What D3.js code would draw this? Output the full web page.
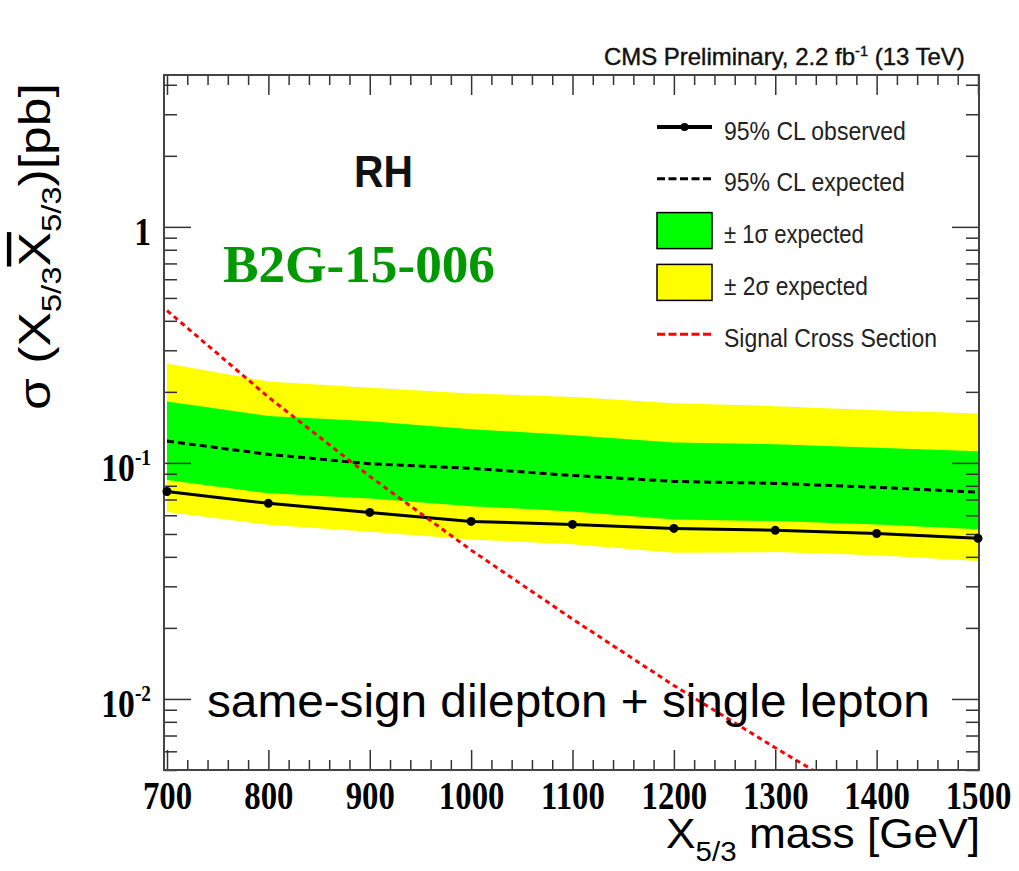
<!DOCTYPE html>
<html>
<head>
<meta charset="utf-8">
<script src="https://cdn.jsdelivr.net/npm/d3@7"></script>
<style>
  html, body { margin: 0; padding: 0; background: #fff; }
  svg { display: block; }
</style>
</head>
<body>
<div id="chart"></div>
<script>
// Mass points and limits (pb)
const masses = [700, 800, 900, 1000, 1100, 1200, 1300, 1400, 1500];
const observed = [0.0757, 0.0674, 0.0617, 0.0565, 0.0549, 0.0528, 0.0518, 0.0502, 0.0479];
const expected = [0.1237, 0.1087, 0.0992, 0.0948, 0.0885, 0.0835, 0.0819, 0.0788, 0.0752];
const oneSigmaUp = [0.182, 0.158, 0.150, 0.139, 0.131, 0.122, 0.120, 0.116, 0.112];
const oneSigmaDown = [0.0846, 0.0743, 0.0707, 0.0656, 0.0623, 0.0576, 0.0567, 0.0549, 0.0523];
const twoSigmaUp = [0.264, 0.221, 0.208, 0.197, 0.190, 0.179, 0.174, 0.167, 0.162];
const twoSigmaDown = [0.0619, 0.0547, 0.0511, 0.0474, 0.0452, 0.0416, 0.0419, 0.0406, 0.0384];
const signal = [0.442, 0.190, 0.0877, 0.0427, 0.0218, 0.0114, 0.00621, 0.00345, 0.00195];

// Axis ticks
const xMajor = [700, 800, 900, 1000, 1100, 1200, 1300, 1400, 1500];
const xMinor = d3.range(700, 1501, 20).filter(v => v % 100 !== 0);
const yMajor = [0.01, 0.1, 1];
const yMinor = [0.005, 0.006, 0.007, 0.008, 0.009, 0.02, 0.03, 0.04, 0.05, 0.06, 0.07, 0.08, 0.09,
  0.2, 0.3, 0.4, 0.5, 0.6, 0.7, 0.8, 0.9, 2, 3, 4];

const legendEntries = [
  { label: '95% CL observed', kind: 'obs' },
  { label: '95% CL expected', kind: 'exp' },
  { label: '\u00b1 1\u03c3 expected', kind: 'box', fill: '#00ff00' },
  { label: '\u00b1 2\u03c3 expected', kind: 'box', fill: '#ffff00' },
  { label: 'Signal Cross Section', kind: 'sig' }
];

const width = 1019;
const height = 871;
const frame = { left: 164, right: 979, top: 75, bottom: 770 };
const SANS = '"Liberation Sans", Arial, Helvetica, sans-serif';
const SERIF = '"Liberation Serif", "Times New Roman", serif';

const svg = d3.select('#chart').append('svg')
  .attr('width', width)
  .attr('height', height);

const x = d3.scaleLinear().domain([700, 1500]).range([167, 978]);
const y = d3.scaleLog().domain([0.005, 4.4]).range([frame.bottom, frame.top]);

// stretch/squeeze a text horizontally so it spans a given width
function fitText(text, tx, ty, w, angle = 0) {
  const bw = text.node().getBBox().width;
  text.attr('transform', `translate(${tx},${ty})` + (angle ? ` rotate(${angle})` : '') + ` scale(${w / bw},1)`);
}

svg.append('defs').append('clipPath').attr('id', 'plot-clip')
  .append('rect')
  .attr('x', frame.left).attr('y', frame.top)
  .attr('width', frame.right - frame.left)
  .attr('height', frame.bottom - frame.top);

const plot = svg.append('g').attr('clip-path', 'url(#plot-clip)');

const rows = masses.map((m, i) => ({
  m,
  obs: observed[i], exp: expected[i],
  up1: oneSigmaUp[i], dn1: oneSigmaDown[i],
  up2: twoSigmaUp[i], dn2: twoSigmaDown[i],
  sig: signal[i]
}));

// +-2 sigma, then +-1 sigma bands
plot.append('path')
  .datum(rows)
  .attr('fill', '#ffff00')
  .attr('d', d3.area().x(d => x(d.m)).y0(d => y(d.dn2)).y1(d => y(d.up2)));

plot.append('path')
  .datum(rows)
  .attr('fill', '#00ff00')
  .attr('d', d3.area().x(d => x(d.m)).y0(d => y(d.dn1)).y1(d => y(d.up1)));

// expected limit
plot.append('path')
  .datum(rows)
  .attr('fill', 'none')
  .attr('stroke', '#000')
  .attr('stroke-width', 3)
  .attr('stroke-dasharray', '7,4')
  .attr('d', d3.line().x(d => x(d.m)).y(d => y(d.exp)));

// observed limit
plot.append('path')
  .datum(rows)
  .attr('fill', 'none')
  .attr('stroke', '#000')
  .attr('stroke-width', 3)
  .attr('d', d3.line().x(d => x(d.m)).y(d => y(d.obs)));

// theory cross section
plot.append('path')
  .datum(rows)
  .attr('fill', 'none')
  .attr('stroke', '#ff0000')
  .attr('stroke-width', 3)
  .attr('stroke-dasharray', '5,4')
  .attr('d', d3.line().x(d => x(d.m)).y(d => y(d.sig)));

// ticks on all four sides
function styleAxis(g) {
  g.select('.domain').remove();
  g.attr('color', '#333');
  g.selectAll('line').attr('stroke-width', 1.5);
}

svg.append('g')
  .attr('transform', `translate(0,${frame.bottom})`)
  .call(d3.axisBottom(x).tickValues(xMinor).tickSize(-10).tickFormat(''))
  .call(styleAxis);

const xAxis = svg.append('g')
  .attr('transform', `translate(0,${frame.bottom})`)
  .call(d3.axisBottom(x).tickValues(xMajor).tickSize(-20).tickPadding(11).tickFormat(d3.format('d')))
  .call(styleAxis);

xAxis.attr('font-family', SERIF).attr('font-size', 40).attr('font-weight', 'bold');
xAxis.selectAll('text').attr('fill', '#000').attr('transform', 'scale(0.82,1)');

svg.append('g')
  .attr('transform', `translate(0,${frame.top})`)
  .call(d3.axisTop(x).tickValues(xMinor).tickSize(-10).tickFormat(''))
  .call(styleAxis);

svg.append('g')
  .attr('transform', `translate(0,${frame.top})`)
  .call(d3.axisTop(x).tickValues(xMajor).tickSize(-20).tickFormat(''))
  .call(styleAxis);

svg.append('g')
  .attr('transform', `translate(${frame.left},0)`)
  .call(d3.axisLeft(y).tickValues(yMinor).tickSize(-13).tickFormat(''))
  .call(styleAxis);

svg.append('g')
  .attr('transform', `translate(${frame.left},0)`)
  .call(d3.axisLeft(y).tickValues(yMajor).tickSize(-27).tickFormat(''))
  .call(styleAxis);

svg.append('g')
  .attr('transform', `translate(${frame.right},0)`)
  .call(d3.axisRight(y).tickValues(yMinor).tickSize(-13).tickFormat(''))
  .call(styleAxis);

svg.append('g')
  .attr('transform', `translate(${frame.right},0)`)
  .call(d3.axisRight(y).tickValues(yMajor).tickSize(-27).tickFormat(''))
  .call(styleAxis);

// y tick labels as powers of ten
const yLabels = svg.append('g')
  .attr('font-family', SERIF)
  .attr('font-weight', 'bold')
  .attr('fill', '#000');

yMajor.forEach(v => {
  const t = yLabels.append('text')
    .attr('text-anchor', 'end')
    .attr('font-size', 40)
    .attr('transform', `translate(151,${y(v) + 18}) scale(0.84,1)`);
  const p = Math.round(Math.log10(v));
  if (p === 0) {
    t.text('1');
  } else {
    t.append('tspan').text('10');
    t.append('tspan').attr('font-size', 23).attr('dy', -16).text(p);
  }
});

// frame
svg.append('rect')
  .attr('x', frame.left).attr('y', frame.top)
  .attr('width', frame.right - frame.left)
  .attr('height', frame.bottom - frame.top)
  .attr('fill', 'none')
  .attr('stroke', '#444')
  .attr('stroke-width', 2);

// observed points sit on top of the frame at the edges
svg.selectAll('circle.obs')
  .data(rows)
  .enter()
  .append('circle')
  .attr('class', 'obs')
  .attr('cx', d => x(d.m))
  .attr('cy', d => y(d.obs))
  .attr('r', 4.5)
  .attr('fill', '#000');

// axis titles
const xTitle = svg.append('text')
  .attr('font-family', SANS)
  .attr('font-size', 42)
  .attr('fill', '#000')
  .attr('text-anchor', 'end');
xTitle.append('tspan').text('X');
xTitle.append('tspan').attr('font-size', 28).attr('dy', 13).text('5/3');
xTitle.append('tspan').attr('dy', -13).text(' mass [GeV]');
fitText(xTitle, 980, 848, 314);

const yTitle = svg.append('text')
  .attr('font-family', SANS)
  .attr('font-size', 44)
  .attr('fill', '#000');
yTitle.append('tspan').text('\u03c3 (X');
yTitle.append('tspan').attr('font-size', 28).attr('dy', 11).text('5/3');
yTitle.append('tspan').attr('dy', -11).style('text-decoration', 'overline').text('X');
yTitle.append('tspan').attr('font-size', 28).attr('dy', 11).text('5/3');
yTitle.append('tspan').attr('dy', -11).text(')[pb]');
fitText(yTitle, 50, 410, 327, -90);

// header
const header = svg.append('text')
  .attr('font-family', SANS)
  .attr('font-size', 23)
  .attr('fill', '#111')
  .attr('stroke', '#111')
  .attr('stroke-width', 0.4);
header.append('tspan').text('CMS Preliminary, 2.2 fb');
header.append('tspan').attr('font-size', 14).attr('dy', -9).text('-1');
header.append('tspan').attr('dy', 9).text(' (13 TeV)');
fitText(header, 604, 65, 361);

// labels inside the frame
const rh = svg.append('text')
  .attr('font-family', SANS)
  .attr('font-weight', 'bold')
  .attr('font-size', 45)
  .attr('fill', '#111')
  .text('RH');
fitText(rh, 354, 187, 59);

const tag = svg.append('text')
  .attr('font-family', SERIF)
  .attr('font-weight', 'bold')
  .attr('font-size', 52)
  .attr('fill', '#009900')
  .text('B2G-15-006');
fitText(tag, 223, 282, 272);

const channel = svg.append('text')
  .attr('font-family', SANS)
  .attr('font-size', 46)
  .attr('fill', '#000')
  .text('same-sign dilepton + single lepton');
fitText(channel, 207, 717, 723);

// legend
const legendTop = 127;
const legendStep = 51.8;
const legendWidths = [182, 181, 140, 144, 213];
const legend = svg.append('g');

legendEntries.forEach((e, i) => {
  const cy = legendTop + i * legendStep;
  if (e.kind === 'box') {
    legend.append('rect')
      .attr('x', 657).attr('y', cy - 18)
      .attr('width', 55).attr('height', 36)
      .attr('fill', e.fill)
      .attr('stroke', '#000')
      .attr('stroke-width', 1.5);
  } else {
    legend.append('line')
      .attr('x1', 657).attr('x2', 712)
      .attr('y1', cy).attr('y2', cy)
      .attr('stroke', e.kind === 'sig' ? '#ff0000' : '#000')
      .attr('stroke-width', e.kind === 'obs' ? 4 : 3)
      .attr('stroke-dasharray', e.kind === 'obs' ? null : '8,3.5');
    if (e.kind === 'obs') {
      legend.append('circle').attr('cx', 684.5).attr('cy', cy).attr('r', 4).attr('fill', '#000');
    }
  }
  const t = legend.append('text')
    .attr('font-family', SANS)
    .attr('font-size', 26)
    .attr('fill', '#222')
    .text(e.label);
  fitText(t, 724, cy + 12.5, legendWidths[i]);
});
</script>
</body>
</html>
